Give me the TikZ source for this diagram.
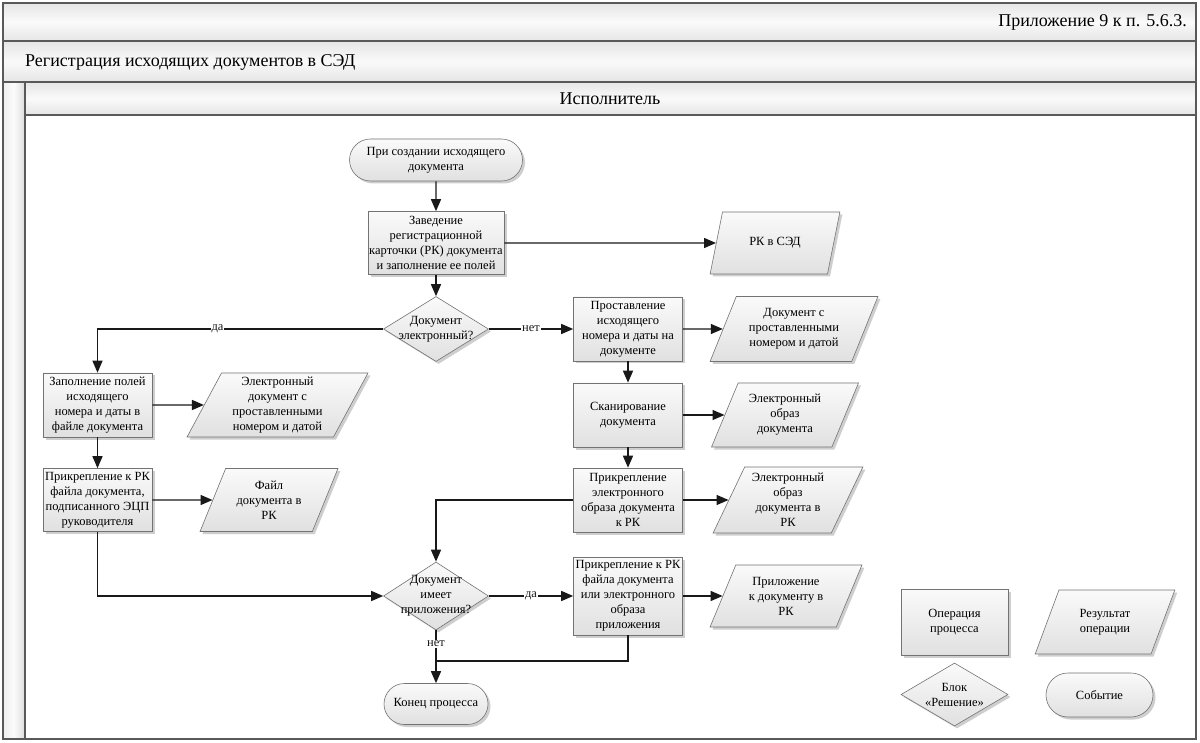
\documentclass[tikz,border=0pt]{standalone}
\usepackage{fontspec}
\setmainfont{Liberation Serif}
\usetikzlibrary{arrows.meta,shapes.geometric,shapes.misc,shadows}
\newcommand\nfont{\fontsize{12.5}{15}\selectfont}
\newcommand\hfont{\fontsize{18}{21}\selectfont}
\begin{document}
\begin{tikzpicture}[x=1pt,y=-1pt,
  frameline/.style={draw=black!65, line width=1.2pt},
  shapebase/.style={draw=black!55, line width=0.6pt, top color=gray!4, bottom color=gray!24,
    drop shadow={shadow xshift=2.5pt, shadow yshift=-2.5pt, opacity=0.35, fill=black!55},
    align=center, inner sep=1pt, font=\nfont},
  proc/.style={shapebase, rectangle, minimum width=#1},
  res/.style={shapebase, trapezium, trapezium left angle=64, trapezium right angle=116,
    trapezium stretches=true, minimum width=#1},
  dec/.style={shapebase, diamond, inner sep=0pt},
  term/.style={shapebase, rounded rectangle, minimum width=#1},
  dtext/.style={align=center, font=\nfont, inner sep=0pt},
  elabel/.style={fill=white, inner sep=1pt, font=\nfont},
  arr/.style={-{Triangle[length=12pt,width=10pt]}, line width=1.4pt, black!90},
  plain/.style={line width=1.4pt, black!90}
]
\useasboundingbox (0,0) rectangle (1200,743);
% frame
\path[fill=white] (3,3) rectangle (1196,739);
\path[top color=gray!20, bottom color=gray!20, middle color=gray!4] (3,3) rectangle (1196,41);
\path[top color=gray!20, bottom color=gray!20, middle color=gray!4] (3,41) rectangle (1196,82);
\path[top color=gray!20, bottom color=gray!20, middle color=gray!4] (25,82) rectangle (1196,115);
\path[left color=gray!12, right color=gray!28, middle color=gray!3] (3,82) rectangle (25,739);
\draw[frameline] (3,3) rectangle (1196,739);
\draw[frameline] (3,41) -- (1196,41);
\draw[frameline] (3,82) -- (1196,82);
\draw[frameline] (25,115) -- (1196,115);
\draw[frameline] (25,82) -- (25,739);
\node[anchor=east, font=\hfont, inner sep=0pt] (app) at (1187,22) {Приложение 9 к п. 5.6.3.};
\node[anchor=west, font=\hfont, inner sep=0pt] (title) at (25,62) {Регистрация исходящих документов в СЭД};
\node[font=\hfont, inner sep=0pt] (lane) at (610,99) {Исполнитель};

% main column
\node[term=175pt, minimum height=42pt] (start) at (436,160) {При создании исходящего\\документа};
\node[proc=136pt, minimum height=63pt] (p1) at (436,243) {Заведение\\регистрационной\\карточки (РК) документа\\и заполнение ее полей};
\node[res=130pt, minimum height=62pt] (r1) at (775,243) {РК в СЭД};
\node[dec, minimum width=105pt, minimum height=65pt] (d1) at (436,329) {};
\node[dtext] (d1t) at (d1) {Документ\\электронный?};
\node[proc=109pt, minimum height=64pt] (p2) at (628,329) {Проставление\\исходящего\\номера и даты на\\документе};
\node[res=168pt, minimum height=65pt] (r2) at (794,329) {Документ с\\проставленными\\номером и датой};
\node[proc=109pt, minimum height=64pt] (p3) at (628,415) {Сканирование\\документа};
\node[res=147pt, minimum height=64pt] (r3) at (785,415) {Электронный\\образ\\документа};
\node[proc=109pt, minimum height=64pt] (p4) at (628,500) {Прикрепление\\электронного\\образа документа\\к РК};
\node[res=150pt, minimum height=66pt] (r4) at (788,500) {Электронный\\образ\\документа в\\РК};
\node[dec, minimum width=105pt, minimum height=68pt] (d2) at (436,596) {};
\node[dtext] (d2t) at (d2) {Документ\\имеет\\приложения?};
\node[proc=109pt, minimum height=78pt] (p5) at (628,596) {Прикрепление к РК\\файла документа\\или электронного\\образа\\приложения};
\node[res=152pt, minimum height=62pt] (r5) at (786,596) {Приложение\\к документу в\\РК};
\node[term=106pt, minimum height=41pt] (end) at (436,704) {Конец процесса};

% left column
\node[proc=109pt, minimum height=64pt] (pl1) at (97.5,405) {Заполнение полей\\исходящего\\номера и даты в\\файле документа};
\node[res=181pt, minimum height=64pt] (rl1) at (277.5,405) {Электронный\\документ с\\проставленными\\номером и датой};
\node[proc=109pt, minimum height=63pt] (pl2) at (97.5,500) {Прикрепление к РК\\файла документа,\\подписанного ЭЦП\\руководителя};
\node[res=138pt, minimum height=63pt] (rl2) at (269,500) {Файл\\документа в\\РК};

% legend
\node[proc=107pt, minimum height=66pt] (lp) at (954.5,622) {Операция\\процесса};
\node[res=140pt, minimum height=64pt] (lr) at (1105,622) {Результат\\операции};
\node[dec, minimum width=107pt, minimum height=63pt] (ld) at (954.5,694.5) {};
\node[dtext] (ldt) at (ld) {Блок\\«Решение»};
\node[term=109pt, minimum height=44pt] (le) at (1099.5,695) {Событие};

% connectors
\draw[arr] (start) -- (p1);
\draw[arr] (p1) -- (r1);
\draw[arr] (p1) -- (d1);
\draw[arr] (d1.west) -| node[elabel, pos=0.29] {да} (pl1.north);
\draw[arr] (d1) -- node[elabel] {нет} (p2);
\draw[arr] (p2) -- (r2);
\draw[arr] (p2) -- (p3);
\draw[arr] (p3) -- (r3);
\draw[arr] (p3) -- (p4);
\draw[arr] (p4) -- (r4);
\draw[arr] (p4.west) -| (d2.north);
\draw[arr] (pl1) -- (rl1);
\draw[arr] (pl1) -- (pl2);
\draw[arr] (pl2) -- (rl2);
\draw[arr] (pl2.south) |- (d2.west);
\draw[arr] (d2) -- node[elabel] {да} (p5);
\draw[arr] (p5) -- (r5);
\draw[arr] (d2.south) -- node[elabel, pos=0.25] {нет} (end.north);
\coordinate (m) at (436,661);
\draw[plain] (p5.south) |- (m);
\end{tikzpicture}
\end{document}
